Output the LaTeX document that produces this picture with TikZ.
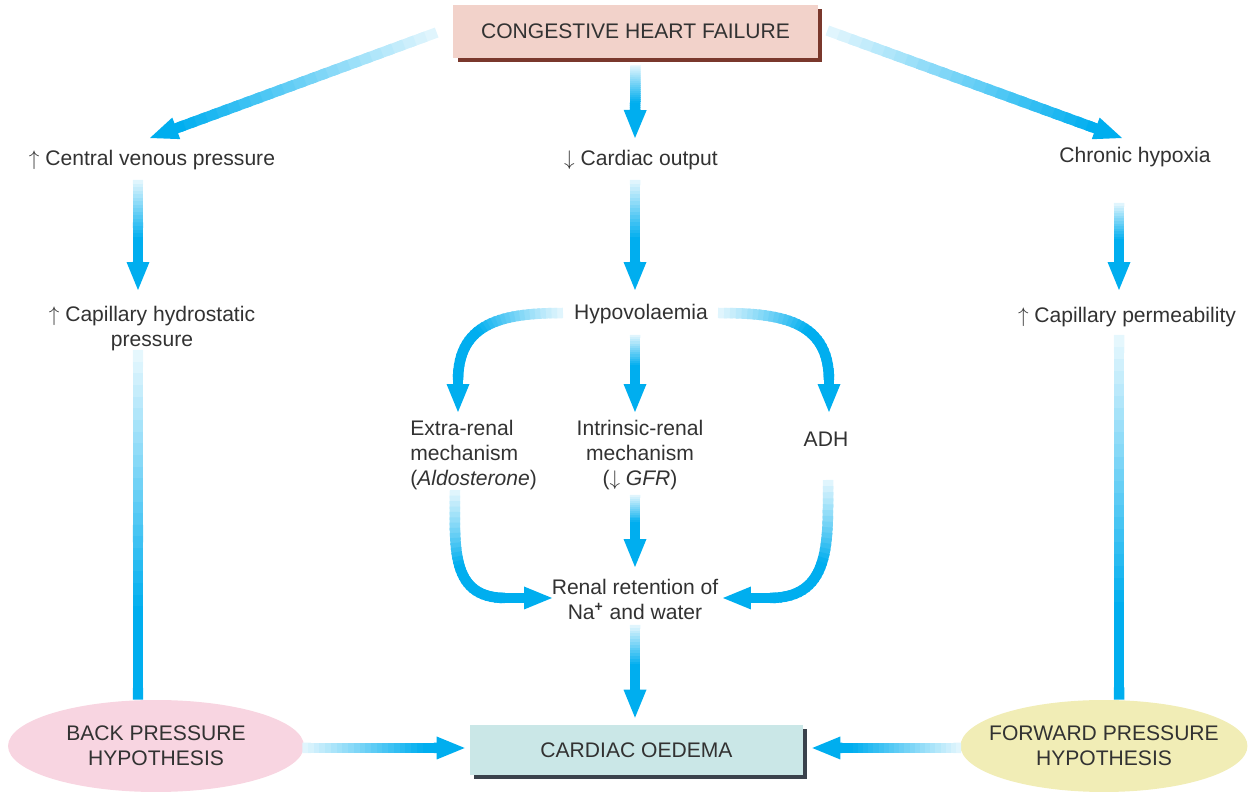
\documentclass[tikz,border=0pt]{standalone}
\usepackage{fontspec}
\setmainfont{Liberation Sans}
\usetikzlibrary{calc,shapes.geometric,shadows}

\definecolor{flow}{RGB}{0,174,239}
\definecolor{ink}{RGB}{50,50,50}
\definecolor{chfpink}{RGB}{242,210,202}
\definecolor{chfshadow}{RGB}{122,56,44}
\definecolor{oedfill}{RGB}{202,231,231}
\definecolor{oedshadow}{RGB}{58,66,76}
\definecolor{backpink}{RGB}{248,213,225}
\definecolor{fwdyellow}{RGB}{241,237,182}

\newlength\shaftw \setlength\shaftw{0.21cm}

% faded straight arrow: [ramp] {from} {tip}
\newcommand\fadearrow[3][0.9]{%
  \coordinate (fs) at #2;
  \coordinate (ft) at #3;
  \coordinate (fh) at ($(ft)!0.5cm!(fs)$);
  \coordinate (hb) at ($(ft)!0.56cm!(fs)$);
  \foreach \i in {0,...,23}{%
    \pgfmathsetmacro\ta{\i/24}%
    \pgfmathsetmacro\tb{min((\i+1.5)/24,1)}%
    \pgfmathsetmacro\sh{min(100,12+88*\i/(23*#1))}%
    \draw[shaft, draw=flow!\sh!white] ($(fs)!\ta!(fh)$) -- ($(fs)!\tb!(fh)$);
  }
  \fill[flow] (ft) -- ($(hb)!0.23cm!90:(ft)$) -- ($(hb)!0.23cm!-90:(ft)$) -- cycle;
}

% faded line with no head: [ramp] {from} {to}
\newcommand\fadeline[3][0.8]{%
  \coordinate (fs) at #2;
  \coordinate (fe) at #3;
  \foreach \i in {0,...,29}{%
    \pgfmathsetmacro\ta{\i/30}%
    \pgfmathsetmacro\tb{min((\i+1.5)/30,1)}%
    \pgfmathsetmacro\sh{min(100,10+90*\i/(29*#1))}%
    \draw[shaft, draw=flow!\sh!white] ($(fs)!\ta!(fe)$) -- ($(fs)!\tb!(fe)$);
  }
}

% faded bent arrow: [ramp] {from} {to options} {mid} {tip}
\newcommand\fadecurve[5][0.7]{%
  \coordinate (fs) at #2;
  \coordinate (fm) at #4;
  \coordinate (ft) at #5;
  \foreach \i in {0,...,29}{%
    \pgfmathsetmacro\ta{\i/30}%
    \pgfmathsetmacro\tb{min((\i+1.5)/30,1)}%
    \pgfmathsetmacro\sh{min(100,12+88*\i/(29*#1))}%
    \path (fs) to[#3] coordinate[pos=\ta] (qa) coordinate[pos=\tb] (qb) (fm);
    \draw[shaft, draw=flow!\sh!white] (qa) -- (qb);
  }
  \coordinate (hb) at ($(ft)!0.56cm!(fm)$);
  \draw[shaft, draw=flow] (fm) -- ($(ft)!0.5cm!(fm)$);
  \fill[flow] (ft) -- ($(hb)!0.23cm!90:(ft)$) -- ($(hb)!0.23cm!-90:(ft)$) -- cycle;
}

\begin{document}
\begin{tikzpicture}[
    x=0.02cm, y=0.02cm,
    lbl/.style={font=\fontsize{12}{14.2}\selectfont, text=ink, inner sep=0pt},
    box/.style={lbl, rectangle, inner sep=0pt},
    hypo/.style={ellipse, inner sep=0pt, minimum height=1.84cm},
    shaft/.style={line width=\shaftw},
  ]
  \useasboundingbox (0,0) rectangle (1249,795);

  % boxes
  \node[box, fill=chfpink, minimum width=7.3cm, minimum height=1.06cm,
        drop shadow={fill=chfshadow, opacity=1, shadow xshift=0.09cm, shadow yshift=-0.09cm}]
        (chf) at (635.5,763.5) {CONGESTIVE HEART FAILURE};
  \node[box, fill=oedfill, minimum width=6.66cm, minimum height=1.0cm,
        drop shadow={fill=oedshadow, opacity=1, shadow xshift=0.08cm, shadow yshift=-0.08cm}]
        (oed) at (636.5,45) {CARDIAC OEDEMA};
  \node[hypo, fill=backpink, minimum width=5.92cm] (back) at (156,49) {};
  \node[lbl, align=center] (backtxt) at (back) {BACK PRESSURE\\HYPOTHESIS};
  \node[hypo, fill=fwdyellow, minimum width=5.74cm] (fwd) at (1104,49) {};
  \node[lbl, align=center] (fwdtxt) at (fwd) {FORWARD PRESSURE\\HYPOTHESIS};

  % labels
  \node[lbl] (cvp) at (152,635) {$\uparrow$ Central venous pressure};
  \node[lbl] (co) at (641,635) {$\downarrow$ Cardiac output};
  \node[lbl] (ch) at (1135,638) {Chronic hypoxia};
  \node[lbl, align=center] (chp) at (152,466) {$\uparrow$ Capillary hydrostatic\\pressure};
  \node[lbl] (cpm) at (1127,478) {$\uparrow$ Capillary permeability};
  \node[lbl] (hyp) at (641,481) {Hypovolaemia};
  \node[lbl, align=left, anchor=west] (extra) at (410,340) {Extra-renal\\mechanism\\(\textit{Aldosterone})};
  \node[lbl, align=center] (intr) at (640,340) {Intrinsic-renal\\mechanism\\($\downarrow$ \textit{GFR})};
  \node[lbl] (adh) at (826,356) {ADH};
  \node[lbl, align=center] (renal) at (635,196) {Renal retention of\\Na\textsuperscript{\textbf{+}} and water};

  % arrows from the top
  \fadearrow[1]{($(chf.west)+(-16,-1)$)}{($(cvp)+(-2,22)$)}
  \fadearrow[0.8]{($(chf.south)+(0,-7)$)}{($(co)+(-6,22)$)}
  \fadearrow[1]{($(chf.east)+(9,1)$)}{($(ch)+(-13,19)$)}

  % second row
  \fadearrow[0.7]{($(cvp)+(-14,-20)$)}{($(chp)+(-14,39)$)}
  \fadearrow[0.7]{($(co)+(-6,-20)$)}{($(hyp)+(-6,24)$)}
  \fadearrow[0.6]{($(ch)+(-16,-46)$)}{($(cpm)+(-8,27)$)}

  % renal mechanisms
  \fadearrow[0.6]{($(hyp)+(-6,-21)$)}{($(intr)+(-5,43)$)}
  \fadecurve[0.6]{($(hyp)+(-78,1)$)}{out=180,in=90,looseness=1.2}{($(extra.west)+(48,75)$)}{($(extra.west)+(48,43)$)}
  \fadecurve[0.6]{($(hyp)+(77,1)$)}{out=0,in=90,looseness=1.2}{($(adh)+(3,59)$)}{($(adh)+(3,27)$)}
  \fadecurve[0.5]{($(extra.west)+(45,-35)$)}{out=-90,in=180,looseness=1.2}{($(renal)+(-130,1)$)}{($(renal)+(-83,1)$)}
  \fadearrow[0.6]{($(intr)+(-5,-40)$)}{($(renal)+(0,32)$)}
  \fadecurve[0.5]{($(adh)+(2,-41)$)}{out=-90,in=0,looseness=1.2}{($(renal)+(135,1)$)}{($(renal)+(88,1)$)}
  \fadearrow[0.6]{($(renal)+(0,-26)$)}{($(oed.north)+(-1.5,7)$)}

  % hypotheses
  \fadeline[0.75]{($(chp)+(-14,-21)$)}{($(back.north)+(-18,0)$)}
  \fadeline[0.75]{($(cpm)+(-8,-18)$)}{($(fwd.north)+(15,0)$)}
  \fadearrow[0.9]{($(back.east)+(-2,-2)$)}{($(oed.west)+(-5,2)$)}
  \fadearrow[0.9]{($(fwd.west)+(1,-2)$)}{($(oed.east)+(9,2)$)}
\end{tikzpicture}
\end{document}
